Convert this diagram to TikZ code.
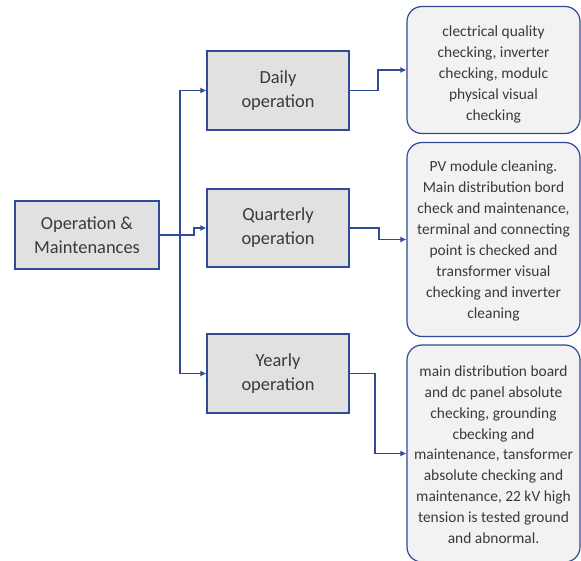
\documentclass[tikz,border=0pt]{standalone}
\usepackage{fontspec}
\setmainfont{Carlito}
\usetikzlibrary{arrows.meta}
\definecolor{edge}{HTML}{2E4A98}
\definecolor{boxgray}{HTML}{E1E1E1}
\definecolor{notegray}{HTML}{F2F2F2}
\definecolor{txt}{HTML}{3A3A3A}
\begin{document}
\begin{tikzpicture}[x=1bp,y=-1bp,
  opbox/.style={draw=edge,line width=1.2bp,fill=boxgray,rectangle,align=center,
     text=txt,font=\fontsize{18.5}{24}\selectfont,inner sep=0pt},
  notebox/.style={draw=edge,line width=1.2bp,fill=notegray,rectangle,rounded corners=15bp,
     align=center,text=txt,font=\fontsize{15.5}{21}\selectfont,inner sep=0pt,
     minimum width=173bp},
  conn/.style={draw=edge,line width=1.2bp,-{Latex[length=6bp,width=6bp]}},
  plain/.style={draw=edge,line width=1.2bp}]
\useasboundingbox (0,0) rectangle (581,561);
\node[opbox,minimum width=144bp,minimum height=68bp] (om) at (87,235) {Operation \&\\Maintenances};
\node[opbox,minimum width=142bp,minimum height=79bp] (daily) at (278,90.5) {Daily\\operation};
\node[opbox,minimum width=142bp,minimum height=78bp] (quart) at (278,228) {Quarterly\\operation};
\node[opbox,minimum width=142bp,minimum height=79bp] (yearly) at (278,373.5) {Yearly\\operation};
\node[notebox,minimum height=127bp] (r1) at (493.5,70) {\rule{0pt}{19bp}clectrical quality\\checking, inverter\\checking, modulc\\physical visual\\checking};
\node[notebox,minimum height=194bp] (r2) at (493.5,239.5) {\rule{0pt}{14bp}PV module cleaning.\\Main distribution bord\\check and maintenance,\\terminal and connecting\\point is checked and\\transformer visual\\checking and inverter\\cleaning};
\node[notebox,minimum height=217bp] (r3) at (493.5,453.5) {\rule{0pt}{13bp}main distribution board\\and dc panel absolute\\checking, grounding\\cbecking and\\maintenance, tansformer\\absolute checking and\\maintenance, 22 kV high\\tension is tested ground\\and abnormal.};
\coordinate (trunk) at (180,235);
\coordinate (qbend) at (194,235);
\coordinate (dbend) at (378,90.5);
\coordinate (qrbend) at (379,228);
\coordinate (ybend) at (375,373.5);
\draw[plain] (om.east) -- (trunk);
\draw[conn] (trunk) |- (daily.west);
\draw[conn] (trunk) |- (yearly.west);
\draw[conn] (om.east) -- (qbend) |- (quart.west);
\draw[conn] (daily.east) -- (dbend) |- (r1.west);
\draw[conn] (quart.east) -- (qrbend) |- (r2.west);
\draw[conn] (yearly.east) -- (ybend) |- (r3.west);
\end{tikzpicture}
\end{document}
